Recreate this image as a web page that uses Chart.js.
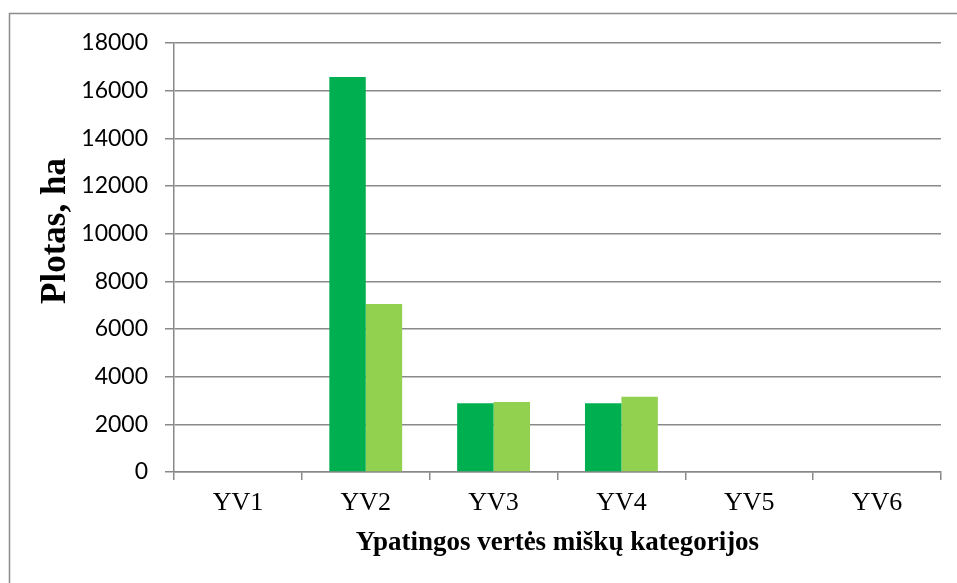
<!DOCTYPE html>
<html>
<head>
<meta charset="utf-8">
<script src="https://cdn.jsdelivr.net/npm/chart.js@4.4.1/dist/chart.umd.min.js"></script>
<style>
  html, body { margin: 0; padding: 0; background: #ffffff; }
  #wrap { position: absolute; left: 0; top: 0; width: 957px; height: 583px; }
</style>
</head>
<body>
<div id="wrap"><canvas id="c" width="957" height="583"></canvas></div>
<script>
const categories = ["YV1", "YV2", "YV3", "YV4", "YV5", "YV6"];
const series1Values = [0, 16570, 2880, 2880, 0, 0];
const series2Values = [0, 7050, 2940, 3160, 0, 0];
const yTicks = [0, 2000, 4000, 6000, 8000, 10000, 12000, 14000, 16000, 18000];
const xTitle = "Ypatingos vertės miškų kategorijos";
const yTitle = "Plotas, ha";

const gridColor = "#898989";

const framePlugin = {
  id: "frame",
  beforeDraw(chart) {
    const ctx = chart.ctx;
    ctx.save();
    ctx.fillStyle = "#ffffff";
    ctx.fillRect(0, 0, chart.width, chart.height);
    ctx.strokeStyle = "#8c8c8c";
    ctx.lineWidth = 1.5;
    ctx.strokeRect(9.5, 13.5, 1200, 1200);
    ctx.restore();
  },
  afterDraw(chart) {
    const ctx = chart.ctx;
    ctx.save();
    ctx.fillStyle = "#000000";
    ctx.font = "bold 35px 'Liberation Serif'";
    ctx.textAlign = "center";
    ctx.textBaseline = "alphabetic";
    ctx.translate(65, 231);
    ctx.rotate(-Math.PI / 2);
    ctx.fillText(yTitle, 0, 0);
    ctx.restore();
  }
};

new Chart(document.getElementById("c"), {
  type: "bar",
  data: {
    labels: categories,
    datasets: [
      { label: "Series 1", data: series1Values, backgroundColor: "#00b050", borderWidth: 0 },
      { label: "Series 2", data: series2Values, backgroundColor: "#92d050", borderWidth: 0 }
    ]
  },
  options: {
    responsive: false,
    animation: false,
    devicePixelRatio: 1,
    layout: { padding: { left: 9, top: 43, right: 16, bottom: 0 } },
    plugins: { legend: { display: false }, tooltip: { enabled: false } },
    datasets: { bar: { categoryPercentage: 0.57, barPercentage: 1.0 } },
    scales: {
      x: {
        grid: { display: true, drawOnChartArea: false, drawTicks: true, tickLength: 8, color: gridColor, lineWidth: 1.5 },
        border: { display: true, color: gridColor, width: 1.5 },
        ticks: { color: "#000000", font: { family: "'Liberation Serif'", size: 26 }, padding: 8, maxRotation: 0 },
        title: { display: true, text: xTitle, color: "#000000", font: { family: "'Liberation Serif'", size: 27, weight: "bold" }, padding: { top: 0, bottom: 24 } },
        afterFit(scale) { scale.height = 111; }
      },
      y: {
        min: 0, max: 18000,
        afterBuildTicks(scale) { scale.ticks = yTicks.map(v => ({ value: v })); },
        grid: { color: gridColor, lineWidth: 1.5, tickLength: 9, drawTicks: true },
        border: { display: true, color: gridColor, width: 1.5 },
        ticks: { color: "#000000", font: { family: "Lato", size: 23 }, padding: 17, callback: (v) => String(v) },
        afterFit(scale) { scale.width = 165; }
      }
    }
  },
  plugins: [framePlugin]
});
</script>
</body>
</html>
